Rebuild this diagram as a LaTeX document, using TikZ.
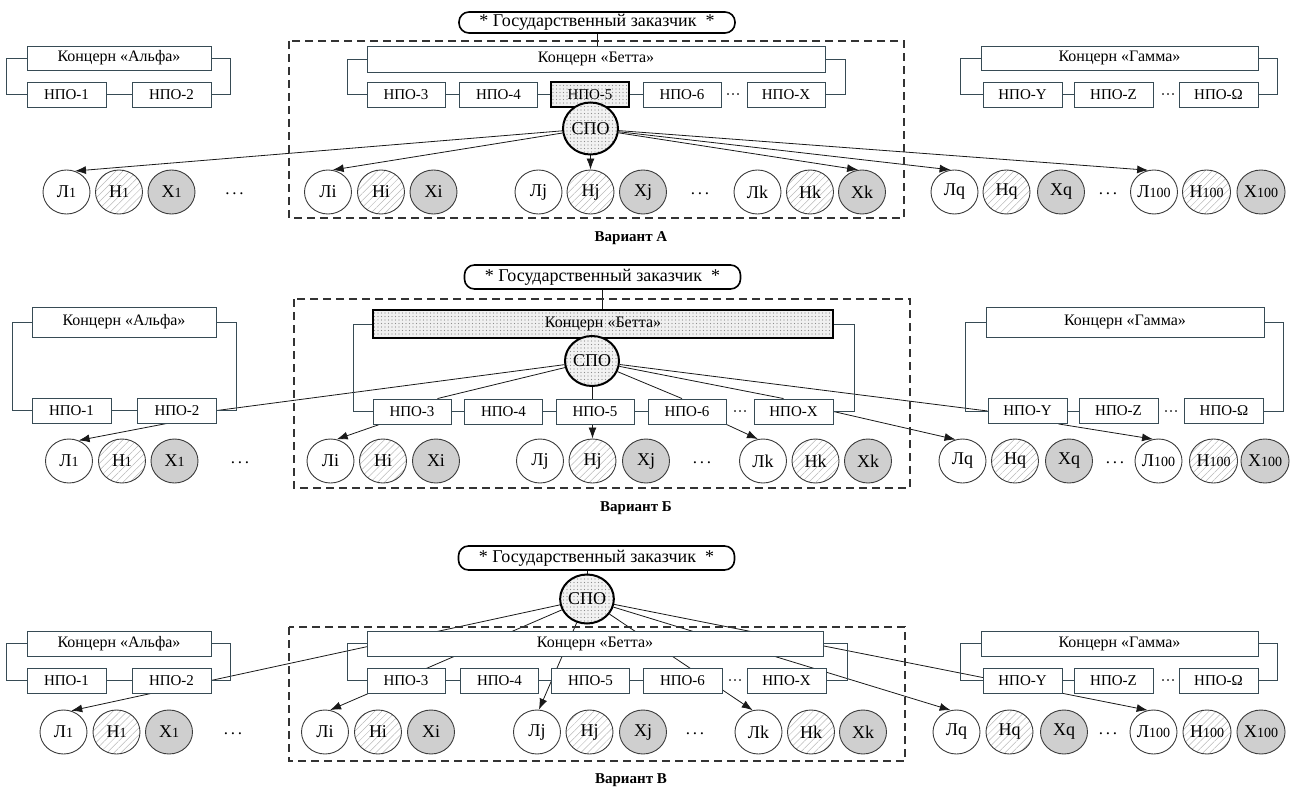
\documentclass[tikz,border=0pt]{standalone}
\usepackage{fontspec}
\setmainfont{Liberation Serif}
\usetikzlibrary{shapes.geometric,arrows.meta,patterns.meta,backgrounds,calc}
\definecolor{bordc}{RGB}{55,75,85}
\definecolor{circc}{RGB}{60,60,60}
\definecolor{lnc}{RGB}{25,25,25}
\newcommand\dg[1]{{\fontsize{14}{14}\selectfont #1}}
\begin{document}
\begin{tikzpicture}[x=1pt,y=-1pt,
  bx/.style={draw=bordc, line width=0.9pt, fill=white, minimum width=#1, minimum height=25, inner sep=0pt, font=\fontsize{15}{18}\selectfont},
  bx/.default=78,
  kbx/.style={bx=#1, font=\fontsize{16}{18}\selectfont},
  hbx/.style={bx=#1, draw=black, line width=2pt, fill=none, preaction={fill=gray!12}, pattern={Dots[distance=3.5pt,radius=0.6pt]}, pattern color=gray!90},
  hbx/.default=78,
  cl/.style={ellipse, draw=circc, line width=0.9pt, fill=white, minimum width=47, minimum height=44, inner sep=0pt, font=\fontsize{18}{18}\selectfont},
  ch/.style={cl, pattern={Lines[angle=45,distance=5pt,line width=0.5pt]}, pattern color=gray!55},
  cx/.style={cl, fill=gray!38},
  spo/.style={ellipse, draw=black, line width=2pt, minimum width=55, minimum height=52, inner sep=0pt, preaction={fill=gray!10}, pattern={Dots[distance=3.5pt,radius=0.6pt]}, pattern color=gray!90, font=\fontsize{18}{18}\selectfont},
  ttl/.style={draw=black, line width=1.6pt, rounded corners=10pt, fill=white, minimum width=276, minimum height=#1, inner sep=0pt, font=\fontsize{18}{18}\selectfont},
  ttl/.default=23,
  dts/.style={font=\fontsize{15}{15}\selectfont, inner sep=0pt},
  cdts/.style={font=\fontsize{17}{17}\selectfont, inner sep=0pt},
  br/.style={draw=bordc, line width=0.9pt},
  ln/.style={draw=lnc, line width=0.8pt},
  arr/.style={ln, -{Latex[length=11pt,width=8pt]}},
  dsh/.style={draw=black!80, line width=1.3pt, dash pattern=on 8pt off 5pt},
  vl/.style={font=\bfseries\fontsize{15}{17}\selectfont}
]
\useasboundingbox (0,0) rectangle (1294,789);

%================ VARIANT A =================
\draw[dsh] (289,41) rectangle (904,218);
\node[ttl=21] (a-gz) at (597,22.5) {*\ Государственный заказчик\ \ *};
\node[kbx=458,minimum height=26] (a-be) at (596,59) {Концерн «Бетта»};
\node[kbx=184,minimum height=24] (a-al) at (119,58) {Концерн «Альфа»};
\node[kbx=277,minimum height=24] (a-ga) at (1119.5,58) {Концерн «Гамма»};
\node[bx=79] (a-n1) at (66.5,94.5) {НПО-1};
\node[bx=79] (a-n2) at (171.5,94.5) {НПО-2};
\node[bx] (a-n3) at (406,94.5) {НПО-3};
\node[bx] (a-n4) at (498.5,94.5) {НПО-4};
\node[hbx] (a-n5) at (590,94.5) {НПО-5};
\node[bx] (a-n6) at (682,94.5) {НПО-6};
\node[bx] (a-nx) at (786,94.5) {НПО-X};
\node[bx=79] (a-ny) at (1022.5,94.5) {НПО-Y};
\node[bx=79] (a-nz) at (1113.5,94.5) {НПО-Z};
\node[bx=79] (a-nw) at (1218.5,94.5) {НПО-Ω};
\node[dts] (a-d1) at (733,97) {···};
\node[dts] (a-d2) at (1168,97) {···};
\node[spo] (a-spo) at (590.5,128.5) {СПО};
\foreach \nm/\x/\st/\tx in {l1/66.5/cl/{Л\dg{1}}, h1/119/ch/{Н\dg{1}}, x1/171.5/cx/{Х\dg{1}},
  li/328/cl/Лi, hi/381/ch/Нi, xi/433.5/cx/Хi, lj/538.5/cl/Лj, hj/590.5/ch/Нj, xj/643/cx/Хj,
  lk/757.5/cl/Лk, hk/810/ch/Нk, xk/862/cx/Хk, lq/954.5/cl/Лq, hq/1006.5/ch/Нq, xq/1061/cx/Хq,
  l100/1154/cl/{Л\dg{100}}, h100/1206.5/ch/{Н\dg{100}}, x100/1261/cx/{Х\dg{100}}}
  {\node[\st] (a-\nm) at (\x,192) {\tx};}
\node[cdts] (a-e1) at (234.5,194) {.\,.\,.};
\node[cdts] (a-e2) at (700,194) {.\,.\,.};
\node[cdts] (a-e3) at (1108,194) {.\,.\,.};
\node[vl] (a-lab) at (631,238) {Вариант А};
\draw[br] (a-al.west) -- ++(-20,0) |- (a-n1.west);
\draw[br] (a-al.east) -- ++(19,0) |- (a-n2.east);
\draw[br] (a-be.west) -- ++(-19,0) |- (a-n3.west);
\draw[br] (a-be.east) -- ++(20,0) |- (a-nx.east);
\draw[br] (a-ga.west) -- ++(-20,0) |- (a-ny.west);
\draw[br] (a-ga.east) -- ++(19,0) |- (a-nw.east);
\draw[br] (a-n1) -- (a-n2);
\draw[br] (a-n3) -- (a-n4);
\draw[br] (a-n4) -- (a-n5);
\draw[br] (a-n5) -- (a-n6);
\draw[br] (a-ny) -- (a-nz);
\begin{scope}[on background layer]
\draw[ln] (a-be.north -| a-gz.south) -- (a-gz.south);
\draw[arr] (a-spo) -- (a-l1.68);
\draw[arr] (a-spo) -- (a-li.78);
\draw[arr] (a-spo) -- (a-hj.north);
\draw[arr] (a-spo) -- (a-xk.100);
\draw[arr] (a-spo) -- (a-lq.100);
\draw[arr] (a-spo) -- (a-l100.105);
\end{scope}

%================ VARIANT B =================
\draw[dsh] (294,299) rectangle (910,488);
\node[ttl=24] (b-gz) at (602.5,277) {*\ Государственный заказчик\ \ *};
\node[hbx=460,minimum height=28,font=\fontsize{16}{18}\selectfont] (b-be) at (603,324) {Концерн «Бетта»};
\node[kbx=184,minimum height=30] (b-al) at (124,322) {Концерн «Альфа»};
\node[kbx=278,minimum height=30] (b-ga) at (1125,322) {Концерн «Гамма»};
\node[bx=79] (b-n1) at (71.5,410.5) {НПО-1};
\node[bx=79] (b-n2) at (177,410.5) {НПО-2};
\node[bx] (b-n3) at (412,411.5) {НПО-3};
\node[bx] (b-n4) at (503.5,411.5) {НПО-4};
\node[bx] (b-n5) at (595,411.5) {НПО-5};
\node[bx] (b-n6) at (687,411.5) {НПО-6};
\node[bx=79] (b-nx) at (793.5,411.5) {НПО-X};
\node[bx=79] (b-ny) at (1027.5,411) {НПО-Y};
\node[bx=79] (b-nz) at (1118.5,411) {НПО-Z};
\node[bx=79] (b-nw) at (1224,411) {НПО-Ω};
\node[dts] (b-d1) at (740,414) {···};
\node[dts] (b-d2) at (1171,414) {···};
\node[spo,minimum width=54,minimum height=50] (b-spo) at (592,361) {СПО};
\foreach \nm/\x/\st/\tx in {l1/69/cl/{Л\dg{1}}, h1/122/ch/{Н\dg{1}}, x1/174.5/cx/{Х\dg{1}},
  li/330.5/cl/Лi, hi/383/ch/Нi, xi/436/cx/Хi, lj/540/cl/Лj, hj/592.5/ch/Нj, xj/646/cx/Хj,
  lk/763/cl/Лk, hk/815.5/ch/Нk, xk/868/cx/Хk, lq/962.5/cl/Лq, hq/1015/ch/Нq, xq/1069/cx/Хq,
  l100/1158.5/cl/{Л\dg{100}}, h100/1213.5/ch/{Н\dg{100}}, x100/1265/cx/{Х\dg{100}}}
  {\node[\st] (b-\nm) at (\x,461) {\tx};}
\node[cdts] (b-e1) at (240,463) {.\,.\,.};
\node[cdts] (b-e2) at (702,463) {.\,.\,.};
\node[cdts] (b-e3) at (1115,463) {.\,.\,.};
\node[vl] (b-lab) at (636,508) {Вариант Б};
\draw[br] (b-al.west) -- ++(-19,0) |- (b-n1.west);
\draw[br] (b-al.east) -- ++(20,0) |- (b-n2.east);
\draw[br] (b-be.west) -- ++(-19,0) |- (b-n3.west);
\draw[br] (b-be.east) -- ++(20,0) |- (b-nx.east);
\draw[br] (b-ga.west) -- ++(-20,0) |- (b-ny.west);
\draw[br] (b-ga.east) -- ++(19,0) |- (b-nw.east);
\draw[br] (b-n1) -- (b-n2);
\draw[br] (b-n3) -- (b-n4);
\draw[br] (b-n4) -- (b-n5);
\draw[br] (b-n5) -- (b-n6);
\draw[br] (b-ny) -- (b-nz);
\begin{scope}[on background layer]
\draw[ln] (b-be.north -| b-gz.south) -- (b-gz.south);
\draw[ln] (b-spo) -- (b-n2.east);
\draw[ln] (b-spo) -- ($(b-n3.north east)+(-14,0)$);
\draw[ln] (b-spo.south) -- (b-spo.south |- b-n5.north);
\draw[ln] (b-spo) -- ($(b-n6.north)+(-5,0)$);
\draw[ln] (b-spo) -- ($(b-nx.north)+(-10,0)$);
\draw[ln] (b-spo) -- (b-ny.west);
\draw[arr] ($(b-n2.south)+(-10,0)$) -- (b-l1.65);
\draw[arr] ($(b-n3.south west)+(7,0)$) -- (b-li.74);
\draw[arr] (b-hj.north |- b-n5.south) -- (b-hj.north);
\draw[arr] (b-n6.south east) -- (b-lk.103);
\draw[arr] (b-nx.east) -- (b-lq.108);
\draw[arr] ($(b-ny.south east)+(-9,0)$) -- (b-l100.104);
\end{scope}

%================ VARIANT C =================
\draw[dsh] (289,627) rectangle (905,761);
\node[ttl=24] (c-gz) at (596.5,558) {*\ Государственный заказчик\ \ *};
\node[spo,minimum width=53,minimum height=49] (c-spo) at (587,599) {СПО};
\node[kbx=456,minimum height=25] (c-be) at (595,643.5) {Концерн «Бетта»};
\node[kbx=184,minimum height=25] (c-al) at (119,643.5) {Концерн «Альфа»};
\node[kbx=277,minimum height=25] (c-ga) at (1119.5,643.5) {Концерн «Гамма»};
\node[bx=79] (c-n1) at (66.5,680.5) {НПО-1};
\node[bx=79] (c-n2) at (171.5,680.5) {НПО-2};
\node[bx] (c-n3) at (406,680.5) {НПО-3};
\node[bx] (c-n4) at (499.5,680.5) {НПО-4};
\node[bx] (c-n5) at (590.5,680.5) {НПО-5};
\node[bx=79] (c-n6) at (682.5,680.5) {НПО-6};
\node[bx=79] (c-nx) at (786.5,680.5) {НПО-X};
\node[bx=79] (c-ny) at (1022.5,680.5) {НПО-Y};
\node[bx=79] (c-nz) at (1113.5,680.5) {НПО-Z};
\node[bx=79] (c-nw) at (1218.5,680.5) {НПО-Ω};
\node[dts] (c-d1) at (735,683) {···};
\node[dts] (c-d2) at (1168,683) {···};
\foreach \nm/\x/\st/\tx in {l1/63.5/cl/{Л\dg{1}}, h1/116.5/ch/{Н\dg{1}}, x1/169/cx/{Х\dg{1}},
  li/325/cl/Лi, hi/378/ch/Нi, xi/431/cx/Хi, lj/537/cl/Лj, hj/589.5/ch/Нj, xj/643/cx/Хj,
  lk/758.5/cl/Лk, hk/811/ch/Нk, xk/863/cx/Хk, lq/956.5/cl/Лq, hq/1009.5/ch/Нq, xq/1064/cx/Хq,
  l100/1153.5/cl/{Л\dg{100}}, h100/1207/ch/{Н\dg{100}}, x100/1261/cx/{Х\dg{100}}}
  {\node[\st] (c-\nm) at (\x,732) {\tx};}
\node[cdts] (c-e1) at (233,734) {.\,.\,.};
\node[cdts] (c-e2) at (695,734) {.\,.\,.};
\node[cdts] (c-e3) at (1108,734) {.\,.\,.};
\node[vl] (c-lab) at (631,780) {Вариант В};
\draw[br] (c-al.west) -- ++(-20,0) |- (c-n1.west);
\draw[br] (c-al.east) -- ++(19,0) |- (c-n2.east);
\draw[br] (c-be.west) -- ++(-19,0) |- (c-n3.west);
\draw[br] (c-be.east) -- ++(24,0) |- (c-nx.east);
\draw[br] (c-ga.west) -- ++(-20,0) |- (c-ny.west);
\draw[br] (c-ga.east) -- ++(19,0) |- (c-nw.east);
\draw[br] (c-n1) -- (c-n2);
\draw[br] (c-n3) -- (c-n4);
\draw[br] (c-n4) -- (c-n5);
\draw[br] (c-n5) -- (c-n6);
\draw[br] (c-ny) -- (c-nz);
\begin{scope}[on background layer]
\draw[ln] (c-spo.north |- c-gz.south) -- (c-spo.north);
\draw[arr] (c-spo) -- (c-l1.70);
\draw[arr] (c-spo) -- (c-li.77);
\draw[arr] (c-spo) -- (c-lj.85);
\draw[arr] (c-spo) -- (c-lk.105);
\draw[arr] (c-spo) -- (c-lq.105);
\draw[arr] (c-spo) -- (c-l100.105);
\end{scope}
\end{tikzpicture}
\end{document}
